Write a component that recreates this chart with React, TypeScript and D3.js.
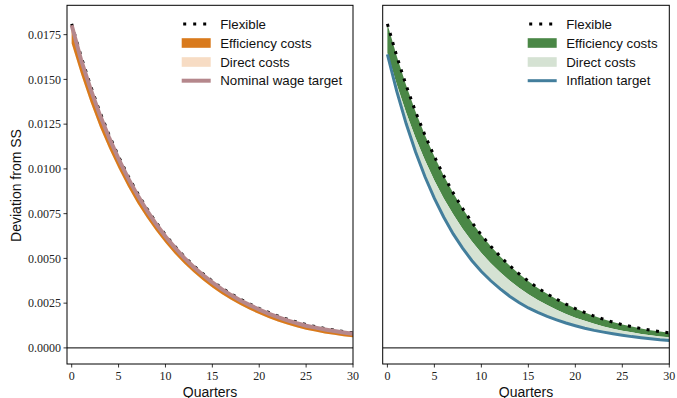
import React from 'react';
import * as d3 from 'd3';

// ---------- data ----------
const quarters = [0, 1, 2, 3, 4, 5, 6, 7, 8, 9, 10, 11, 12, 13, 14, 15, 16, 17, 18, 19, 20, 21, 22, 23, 24, 25, 26, 27, 28, 29, 30];

const flexible = [0.0181, 0.01629, 0.01466, 0.01319, 0.01188, 0.01069, 0.00962, 0.00866, 0.00779, 0.00701, 0.00631, 0.00568, 0.00511, 0.0046, 0.00414, 0.00373, 0.00335, 0.00302, 0.00272, 0.00245, 0.0022, 0.00198, 0.00178, 0.0016, 0.00144, 0.0013, 0.00119, 0.00108, 0.00099, 0.00091, 0.00084];

// left panel (nominal wage targeting)
const efficiencyLowerNominal = [0.01701, 0.0153, 0.01375, 0.01236, 0.01114, 0.01003, 0.00901, 0.0081, 0.00728, 0.00654, 0.00587, 0.00526, 0.00471, 0.00422, 0.00378, 0.00338, 0.00301, 0.00269, 0.00239, 0.00213, 0.00189, 0.00167, 0.00148, 0.0013, 0.00115, 0.00101, 0.00091, 0.00081, 0.00073, 0.00065, 0.00059];
const nominalWageTarget = [0.01802, 0.01609, 0.01448, 0.01302, 0.01173, 0.01056, 0.0095, 0.00855, 0.00769, 0.00692, 0.00622, 0.0056, 0.00503, 0.00452, 0.00407, 0.00366, 0.00328, 0.00295, 0.00265, 0.00239, 0.00214, 0.00192, 0.00172, 0.00154, 0.00138, 0.00124, 0.00113, 0.00103, 0.00094, 0.00086, 0.00079];

// right panel (inflation targeting)
const efficiencyLowerInflation = [0.01647, 0.01471, 0.01314, 0.01173, 0.01048, 0.00935, 0.00835, 0.00746, 0.00665, 0.00594, 0.0053, 0.00473, 0.00422, 0.00377, 0.00336, 0.003, 0.00267, 0.00239, 0.00213, 0.0019, 0.00169, 0.00151, 0.00135, 0.0012, 0.00107, 0.00096, 0.00087, 0.00078, 0.00071, 0.00064, 0.00059];
const inflationTarget = [0.0164, 0.01433, 0.01252, 0.01094, 0.00956, 0.00835, 0.0073, 0.00637, 0.00557, 0.00487, 0.00427, 0.00375, 0.0033, 0.00289, 0.00254, 0.00223, 0.00198, 0.00176, 0.00157, 0.00139, 0.00124, 0.0011, 0.00098, 0.00088, 0.00079, 0.00071, 0.00063, 0.00057, 0.00051, 0.00045, 0.00041];

const yTicks = [0, 0.0025, 0.005, 0.0075, 0.01, 0.0125, 0.015, 0.0175];
const xTicks = [0, 5, 10, 15, 20, 25, 30];

const leftLegend = ['Flexible', 'Efficiency costs', 'Direct costs', 'Nominal wage target'];
const rightLegend = ['Flexible', 'Efficiency costs', 'Direct costs', 'Inflation target'];

// ---------- layout / style ----------
const W = 677;
const H = 398;
const TOP = 5.3;
const BOTTOM = 364;
const SANS = '"Liberation Sans", Arial, Helvetica, sans-serif';
const SERIF = '"Liberation Serif", "Times New Roman", serif';

type PanelSpec = {
  left: number;
  right: number;
  effLower: number[];
  target: number[];
  effColor: string;
  directColor: string;
  targetColor: string;
  targetWidth: number;
  legend: string[];
  legendX: number;
  showYAxis: boolean;
  directUnder: boolean;
};

const panels: PanelSpec[] = [
  {
    left: 67, right: 353,
    effLower: efficiencyLowerNominal, target: nominalWageTarget,
    effColor: '#d97a1c', directColor: '#f7dcc4', targetColor: '#b5878c', targetWidth: 4,
    legend: leftLegend, legendX: 181.7, showYAxis: true, directUnder: true,
  },
  {
    left: 382.7, right: 669.3,
    effLower: efficiencyLowerInflation, target: inflationTarget,
    effColor: '#4a8746', directColor: '#d5e2d3', targetColor: '#437e9c', targetWidth: 3,
    legend: rightLegend, legendX: 527.7, showYAxis: false, directUnder: false,
  },
];

const y = d3.scaleLinear().domain([-0.0009, 0.01914]).range([BOTTOM, TOP]);

function Panel({ p, idx }: { p: PanelSpec; idx: number }) {
  const x = d3.scaleLinear().domain([-0.5, 30]).range([p.left, p.right]);
  const effArea = d3.area<number>()
    .x((_, i) => x(quarters[i]))
    .y0((_, i) => y(p.effLower[i]))
    .y1((d) => y(d));
  const directArea = d3.area<number>()
    .x((_, i) => x(quarters[i]))
    .y0((_, i) => y(p.target[i]))
    .y1((d) => y(d));
  const line = d3.line<number>().x((_, i) => x(quarters[i])).y((d) => y(d));
  const clipId = `clip${idx}`;

  const effPath = effArea(flexible) || '';
  const directPath = directArea(p.effLower) || '';

  const rowY = [24, 43, 62, 80.7];
  const hx0 = p.legendX;
  const hx1 = p.legendX + 29;
  const tx = p.legendX + 38.5;

  return (
    <g>
      <defs>
        <clipPath id={clipId}>
          <rect x={p.left} y={TOP} width={p.right - p.left} height={BOTTOM - TOP} />
        </clipPath>
      </defs>
      <g clipPath={`url(#${clipId})`}>
        {p.directUnder && <path d={directPath} fill={p.directColor} />}
        <path d={effPath} fill={p.effColor} />
        {!p.directUnder && <path d={directPath} fill={p.directColor} />}
        <line x1={p.left} x2={p.right} y1={y(0)} y2={y(0)} stroke="#000" strokeWidth={1} />
        {idx === 0 ? (
          <>
            <path d={line(flexible) || ''} fill="none" stroke="#000" strokeWidth={3} strokeDasharray="3 6.5" />
            <path d={line(p.target) || ''} fill="none" stroke={p.targetColor} strokeWidth={p.targetWidth} />
          </>
        ) : (
          <>
            <path d={line(p.target) || ''} fill="none" stroke={p.targetColor} strokeWidth={p.targetWidth} />
            <path d={line(flexible) || ''} fill="none" stroke="#000" strokeWidth={3} strokeDasharray="3 6.5" />
          </>
        )}
      </g>
      {/* frame */}
      <rect x={p.left} y={TOP} width={p.right - p.left} height={BOTTOM - TOP} fill="none" stroke="#000" strokeWidth={1} />
      {/* x axis */}
      {xTicks.map((t) => (
        <g key={`xt${t}`}>
          <line x1={x(t)} x2={x(t)} y1={BOTTOM} y2={BOTTOM + 3.5} stroke="#000" strokeWidth={0.8} />
          <text x={x(t)} y={380} textAnchor="middle" fontFamily={SERIF} fontSize={12} fill="#222">{t}</text>
        </g>
      ))}
      <text x={(p.left + p.right) / 2} y={396.5} textAnchor="middle" fontFamily={SANS} fontSize={14} fill="#111">Quarters</text>
      {/* y axis */}
      {p.showYAxis && yTicks.map((v) => (
        <g key={`yt${v}`}>
          <line x1={p.left - 3.5} x2={p.left} y1={y(v)} y2={y(v)} stroke="#000" strokeWidth={0.8} />
          <text x={p.left - 6} y={y(v)} dy="0.35em" textAnchor="end" fontFamily={SERIF} fontSize={12} fill="#222">{v.toFixed(4)}</text>
        </g>
      ))}
      {p.showYAxis && (
        <text transform={`translate(20.5,185.5) rotate(-90)`} textAnchor="middle" fontFamily={SANS} fontSize={14} fill="#111">Deviation from SS</text>
      )}
      {/* legend */}
      <g>
        <line x1={hx0 + 1.5} x2={hx1} y1={rowY[0]} y2={rowY[0]} stroke="#000" strokeWidth={3} strokeDasharray="3 7" />
        <rect x={hx0} y={rowY[1] - 4.8} width={29} height={9.6} fill={p.effColor} />
        <rect x={hx0} y={rowY[2] - 4.8} width={29} height={9.6} fill={p.directColor} />
        <line x1={hx0} x2={hx1} y1={rowY[3]} y2={rowY[3]} stroke={p.targetColor} strokeWidth={p.targetWidth} />
        {p.legend.map((s, i) => (
          <text key={s} x={tx} y={rowY[i] + 4.6} fontFamily={SANS} fontSize={13.3} fill="#111">{s}</text>
        ))}
      </g>
    </g>
  );
}

export default function App() {
  return (
    <svg
      width={W}
      height={H}
      viewBox={`0 0 ${W} ${H}`}
      style={{ position: 'absolute', left: 0, top: 0, background: '#fff' }}
    >
      <rect x={0} y={0} width={W} height={H} fill="#fff" />
      {panels.map((p, i) => (
        <Panel key={i} p={p} idx={i} />
      ))}
    </svg>
  );
}
